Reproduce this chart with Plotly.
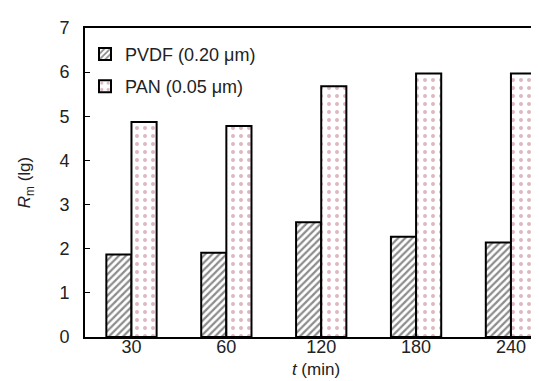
import plotly.graph_objects as go

categories = ["30", "60", "120", "180", "240"]
pvdf = [1.87, 1.91, 2.60, 2.27, 2.14]
pan = [4.87, 4.78, 5.68, 5.97, 5.97]
names = ["PVDF (0.20 \u03bcm)", "PAN (0.05 \u03bcm)"]
y_ticks = [0, 1, 2, 3, 4, 5, 6, 7]

fig = go.Figure()
fig.add_trace(go.Bar(
    x=categories, y=pvdf, name=names[0], legendgroup="pvdf",
    marker=dict(color="white", line=dict(color="black", width=2),
                pattern=dict(shape="/", fgcolor="#1a1a1a", bgcolor="white", size=5, solidity=0.45)),
))
fig.add_trace(go.Bar(
    x=categories, y=pan, name=names[1], legendgroup="pan",
    marker=dict(color="white", line=dict(color="black", width=2),
                pattern=dict(shape=".", fgcolor="#b86f82", bgcolor="white", size=8, solidity=0.2)),
))

font = "Liberation Sans, Arial, sans-serif"
fig.update_layout(
    width=539, height=381,
    margin=dict(l=77, r=0, t=20, b=52),
    paper_bgcolor="white", plot_bgcolor="white",
    barmode="group", bargap=0.47, bargroupgap=0,
    font=dict(family=font, size=18, color="#222222"),
    showlegend=True,
    legend=dict(x=0.0, y=0.975, xanchor="left", yanchor="top",
                bgcolor="rgba(0,0,0,0)", font=dict(size=18),
                itemwidth=30, tracegroupgap=6),
    xaxis=dict(
        type="category", range=[-0.49, 4.38],
        showline=True, linecolor="black", linewidth=2, mirror=True,
        ticks="", showgrid=False, ticklabelstandoff=-8,
        title=dict(text="<i>t</i> (min)", standoff=8, font=dict(size=17)),
    ),
    yaxis=dict(
        range=[0, 7], tickvals=y_ticks,
        showline=True, linecolor="black", linewidth=2,
        ticks="inside", ticklen=5, tickcolor="black", tickwidth=1,
        showgrid=False, zeroline=False, ticklabelstandoff=10,
        title=dict(text="<i>R</i><sub>m</sub> (lg)", standoff=24, font=dict(size=17)),
    ),
)

fig.write_html("out.html")
